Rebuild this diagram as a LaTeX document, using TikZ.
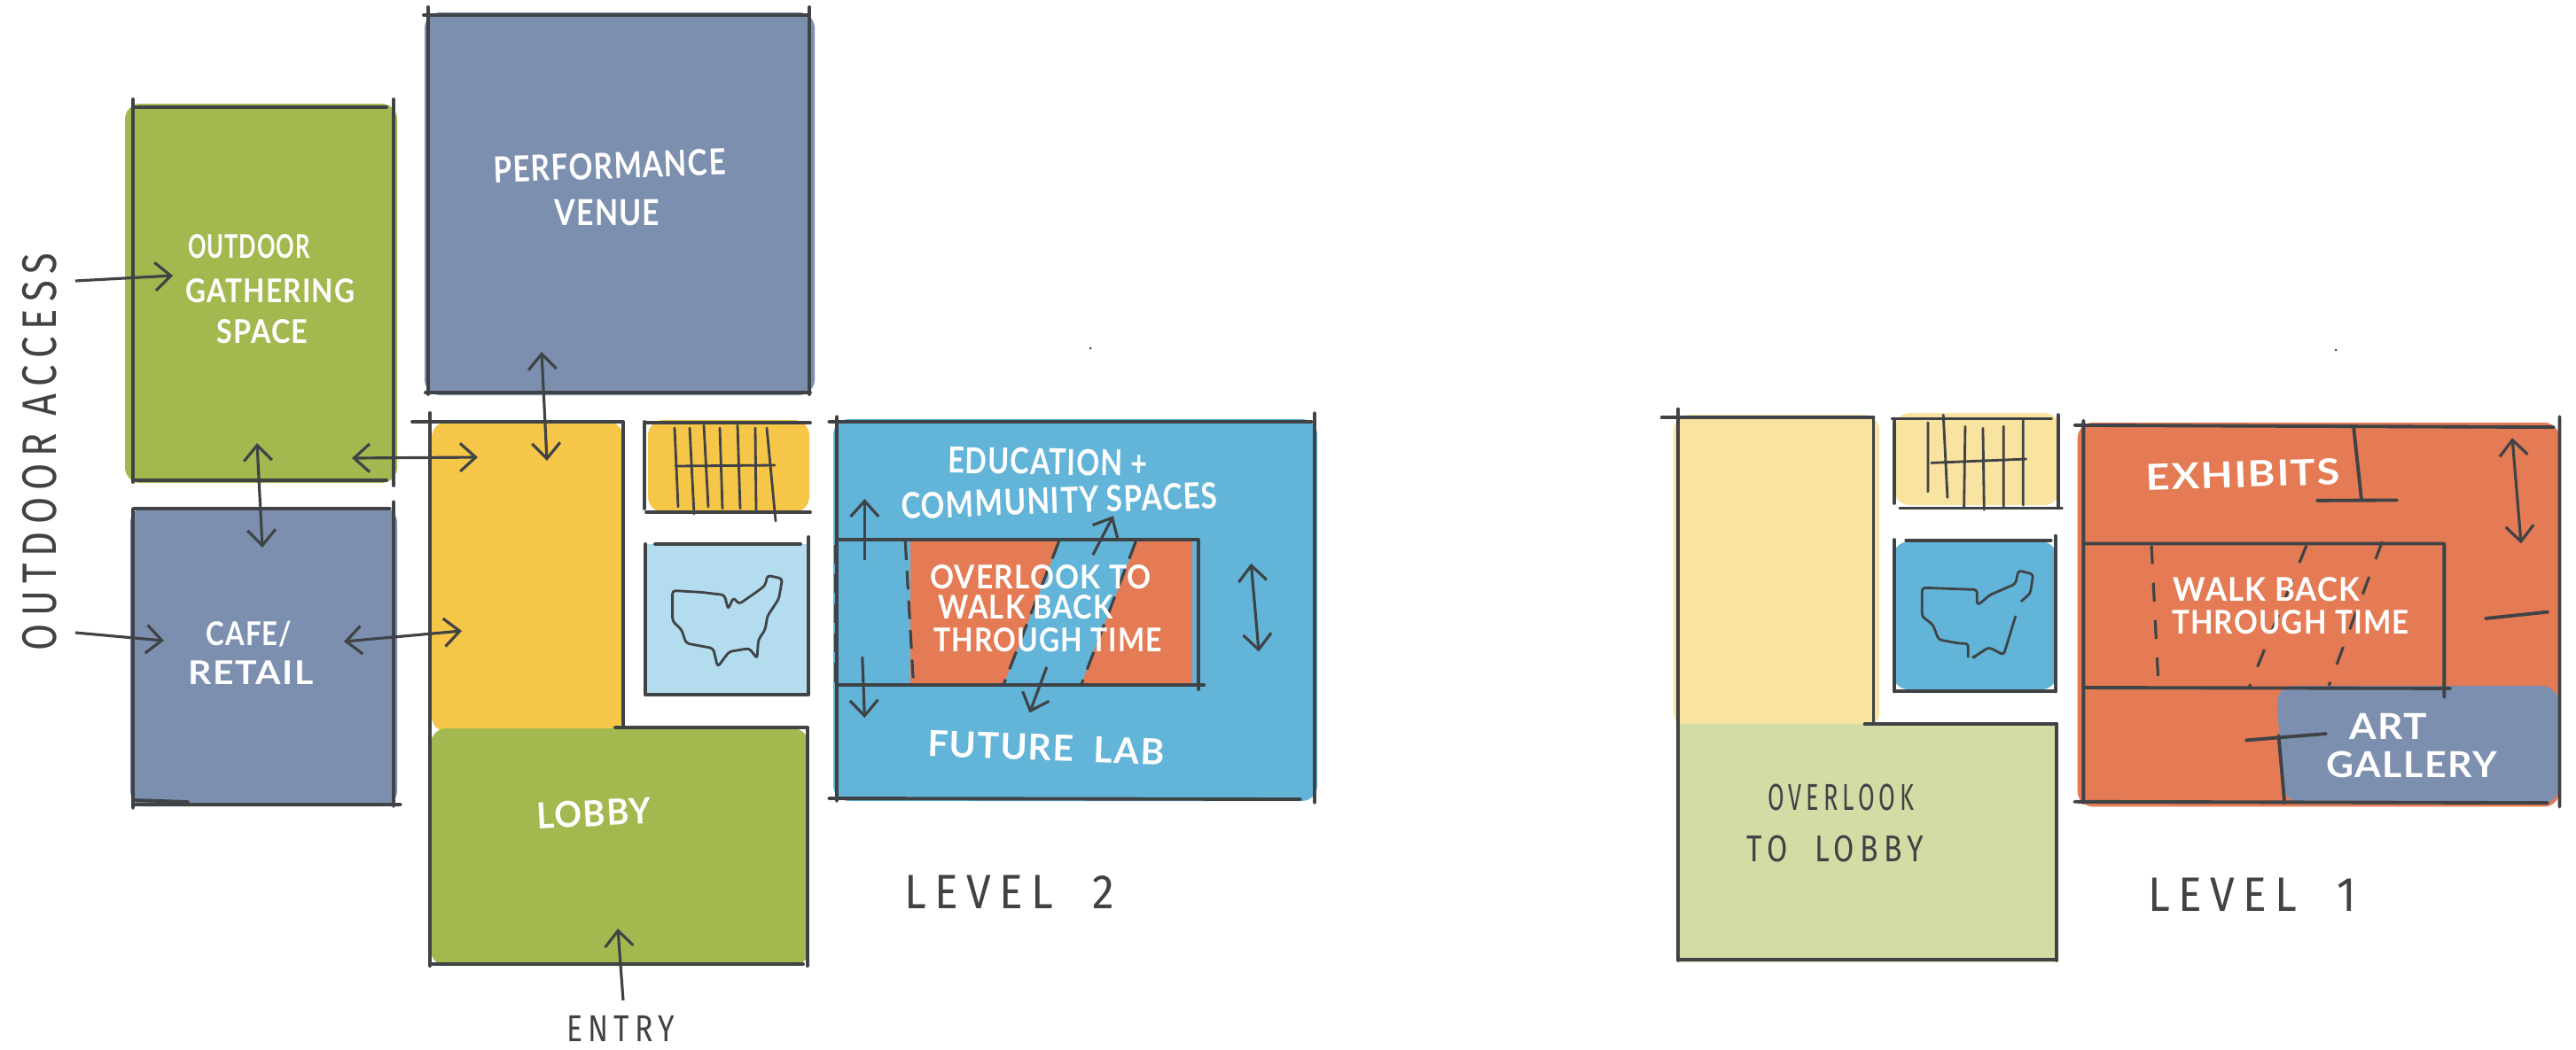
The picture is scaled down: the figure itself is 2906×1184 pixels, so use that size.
\documentclass[tikz,border=0pt]{standalone}
\usepackage{graphicx}
\usepackage{fontspec}
\setmainfont{Lato}
\newfontfamily\hw[FakeStretch=0.84,LetterSpace=3]{Lato}
\newfontfamily\hd[FakeStretch=0.80,LetterSpace=15]{Fira Sans}
\newcommand\sx[2]{\scalebox{#1}[1]{#2}}
\usetikzlibrary{arrows.meta}
\definecolor{slate}{HTML}{7D8FAF}
\definecolor{leaf}{HTML}{A3B84F}
\definecolor{sun}{HTML}{F5C647}
\definecolor{sky}{HTML}{B3DCEE}
\definecolor{sea}{HTML}{62B5D8}
\definecolor{clay}{HTML}{E47B54}
\definecolor{palesun}{HTML}{F8E3A0}
\definecolor{paleleaf}{HTML}{D3DCA4}
\definecolor{ink}{HTML}{404346}
\tikzset{
  paint/.style={rounded corners=5pt},
  wall/.style={draw=ink,line width=1.1pt,line cap=round},
  thin wall/.style={draw=ink,line width=0.8pt,line cap=round},
  dash wall/.style={draw=ink,line width=0.9pt,dash pattern=on 6pt off 3.5pt},
  oneway/.style={draw=ink,line width=0.9pt,-{Straight Barb[length=5pt,width=9pt]}},
  twoway/.style={draw=ink,line width=0.9pt,{Straight Barb[length=5pt,width=9pt]}-{Straight Barb[length=5pt,width=9pt]}},
  wlab/.style={text=white,inner sep=0pt,align=center,font=\hw\bfseries\fontsize{11.5}{14}\selectfont},
  wsmall/.style={text=white,inner sep=0pt,align=center,font=\hw\bfseries\fontsize{10.5}{13}\selectfont},
  dlab/.style={text=ink,inner sep=0pt,font=\hd\fontsize{12}{14}\selectfont},
  dbig/.style={text=ink,inner sep=0pt,font=\hd\fontsize{15.5}{18}\selectfont},
}
\begin{document}
\begin{tikzpicture}[x=0.01cm,y=-0.01cm]
\useasboundingbox[fill=white] (0,0) rectangle (2906,1184);

% ---------- LEVEL 2 ----------
\fill[slate,paint] (479,14) rectangle (919,446);
\fill[leaf,paint] (141,117) rectangle (448,545);
\fill[slate,paint] (147,572) rectangle (448,910);
\fill[sun,paint] (487,476) rectangle (703,826);
\fill[leaf,paint] (486,822) rectangle (912,1090);
\fill[sun,paint] (731,474) rectangle (913,578);
\fill[sky] (730,614) rectangle (911,784);
\fill[sea,paint] (940,473) rectangle (1486,904);
\fill[clay] (1027,611) -- (1345,611) -- (1345,771) -- (1027,771) -- cycle;
\fill[sea] (1195,611) -- (1282,611) -- (1220,771) -- (1133,771) -- cycle;

\draw[wall] (483,8) -- (483,445) (478,17) -- (913,17) (913,8) -- (913,445) (480,443) -- (914,443);
\draw[wall] (150,112) -- (150,544) (150,121) -- (436,121) (444,112) -- (444,548) (150,542) -- (436,542);
\draw[wall] (150,574) -- (150,912) (150,574) -- (440,574) (444,566) -- (444,910) (150,908) -- (452,908) (150,903) -- (212,905);
\draw[wall] (485,466) -- (485,1090) (465,476) -- (703,476) (703,476) -- (703,820) (694,821) -- (911,821) (911,821) -- (911,1090) (485,1088) -- (906,1088);
\draw[wall] (727,476) -- (727,574) (727,477) -- (914,477) (729,578) -- (914,578);
\draw[thin wall] (761,483) -- (765,572) (778,483) -- (783,580) (794,480) -- (799,572) (812,483) -- (815,574) (832,480) -- (835,574) (852,483) -- (853,576) (865,483) -- (875,588) (762,526) -- (874,525);
\draw[wall] (739,614) -- (903,614) (912,606) -- (912,784) (728,614) -- (728,784) (728,784) -- (912,784);
\draw[wall] (944,470) -- (944,904) (935,476) -- (1480,476) (1483,466) -- (1483,906) (935,901) -- (1467,902);
\draw[wall] (944,609) -- (1352,609) (1352,609) -- (1352,778) (944,773) -- (1358,773);

\begin{scope}[shift={(700,450)},x=0.005102cm,y=-0.003827cm]
\draw[thin wall,line join=round,rounded corners=1pt] (115,565) -- (180,570) -- (230,578) -- (238,620) -- (250,585) -- (262,605) -- (300,570) -- (320,550) -- (325,520) -- (358,530) -- (350,590) -- (325,640) -- (320,680) -- (305,710) -- (302,765) -- (285,735) -- (240,745) -- (215,790) -- (205,735) -- (145,720) -- (135,680) -- (115,655) -- cycle;
\draw[dash wall] (630,420) -- (648,840);
\draw[dash wall] (970,420) -- (848,840);
\draw[dash wall] (1140,420) -- (1020,840);
\draw[dash wall] (475,430) -- (475,840);
\draw[oneway] (540,475) -- (540,295);
\draw[oneway] (535,760) -- (540,940);
\draw[oneway] (1045,460) -- (1090,345);
\draw[oneway] (943,790) -- (905,925);
\draw[twoway] (1395,485) -- (1412,745);
\end{scope}

\draw[oneway] (85,317) -- (195,311);
\draw[oneway] (85,714) -- (185,723);
\draw[twoway] (290,500) -- (296,618);
\draw[twoway] (397,517) -- (539,516);
\draw[twoway] (388,724) -- (521,712);
\draw[twoway] (611,397) -- (617,520);
\draw[oneway] (703,1129) -- (697,1048);
\fill[ink] (1230,393) circle (1.5);

\node[wlab,rotate=2] (perf1) at (688,187) {\sx{0.98}{PERFORMANCE}};
\node[wlab] (perf2) at (685,240) {VENUE};
\node[wsmall] (out1) at (281,278) {\sx{0.82}{OUTDOOR}};
\node[wsmall] (out2) at (305,328) {\sx{1.02}{GATHERING}};
\node[wsmall] (out3) at (296,374) {\sx{1.04}{SPACE}};
\node[wsmall] (cafe1) at (281,716) {CAFE/};
\node[wsmall] (cafe2) at (283,759) {\sx{1.32}{RETAIL}};
\node[wlab,rotate=3] (lobby) at (670,918) {\sx{1.12}{LOBBY}};
\node[wlab,rotate=-1] (edu1) at (1182,521) {\sx{0.95}{EDUCATION +}};
\node[wlab,rotate=2] (edu2) at (1195,565) {\sx{0.98}{COMMUNITY SPACES}};
\node[wsmall] (walk1) at (1174,651) {\sx{1.08}{OVERLOOK TO}};
\node[wsmall] (walk2) at (1157,685) {\sx{1.05}{WALK BACK}};
\node[wsmall] (walk3) at (1182,722) {\sx{1.03}{THROUGH TIME}};
\node[wlab,rotate=-2] (future) at (1180,844) {\sx{1.2}{FUTURE\ \ LAB}};
\node[dlab] (entry) at (700,1161) {ENTRY};
\node[dbig,rotate=90] (access) at (45,510) {OUTDOOR ACCESS};
\node[dbig] (lev2) at (1139,1007) {\sx{1.14}{LEVEL\ \ 2}};

% ---------- LEVEL 1 ----------
\begin{scope}[shift={(1860,440)},x=0.006671cm,y=-0.004337cm]
\fill[palesun,paint] (42,65) rectangle (390,880);
\fill[paleleaf] (50,870) rectangle (692,1490);
\fill[palesun,paint] (415,60) rectangle (695,300);
\fill[sea,paint] (413,395) rectangle (690,780);
\fill[clay,paint] (725,85) rectangle (1540,1085);
\fill[slate,rounded corners=6pt] (1060,770) -- (1540,770) -- (1540,1078) -- (1075,1078) -- cycle;

\draw[wall] (50,50) -- (50,1485) (22,72) -- (380,72) (380,72) -- (380,868) (365,870) -- (690,870) (690,870) -- (690,1485) (50,1482) -- (690,1482);
\draw[wall] (412,75) -- (680,75) (415,75) -- (415,295) (692,65) -- (692,305) (425,308) -- (698,308);
\draw[thin wall] (472,85) -- (472,265) (498,65) -- (505,280) (535,95) -- (533,305) (565,100) -- (567,312) (600,95) -- (600,305) (633,80) -- (633,300) (478,190) -- (638,180);
\draw[wall] (435,392) -- (680,392) (415,390) -- (415,785) (688,380) -- (688,785) (415,785) -- (688,785);
\draw[thin wall,line join=round,rounded corners=1pt] (630,550) -- (645,530) -- (650,480) -- (625,470) -- (620,505) -- (575,535) -- (565,550) -- (555,560) -- (555,520) -- (462,515) -- (462,590) -- (480,610) -- (490,650) -- (525,660) -- (540,660) -- (540,695);
\draw[thin wall,line join=round,rounded corners=1pt] (550,695) -- (575,670) -- (600,690) -- (610,640) -- (620,590);
\fill[ink] (550,695) circle (4);

\draw[wall] (720,92) -- (1530,97) (735,80) -- (735,1075) (1540,70) -- (1540,1085) (720,1072) -- (1520,1075);
\draw[wall] (735,400) -- (1345,400) (1345,400) -- (1345,800) (735,775) -- (1355,777);
\draw[dash wall,dash pattern=on 6pt off 6pt] (850,405) -- (862,775);
\draw[dash wall,dash pattern=on 6pt off 6pt] (735,460) -- (735,770);
\draw[dash wall,dash pattern=on 6pt off 6pt] (1112,405) -- (1015,775);
\draw[dash wall,dash pattern=on 6pt off 6pt] (1240,395) -- (1150,770);
\draw[wall] (1065,900) -- (1075,1075) (1010,912) -- (1145,895) (1192,100) -- (1205,285) (1130,288) -- (1265,287) (1415,595) -- (1520,578);
\draw[twoway] (1460,125) -- (1475,400);

\node[wlab,rotate=2] (exh) at (1005,220) {\sx{1.38}{EXHIBITS}};
\node[wsmall] (lw1) at (1045,520) {\sx{1.12}{WALK BACK}};
\node[wsmall] (lw2) at (1085,605) {\sx{1.07}{THROUGH TIME}};
\node[wlab] (art1) at (1250,875) {\sx{1.3}{ART}};
\node[wlab] (art2) at (1290,975) {\sx{1.26}{GALLERY}};
\node[dlab] (ov1) at (325,1060) {\sx{0.8}{OVERLOOK}};
\node[dlab] (ov2) at (315,1195) {\sx{1.0}{TO\ \ LOBBY}};
\node[dbig] (lev1) at (1020,1315) {\sx{1.14}{LEVEL\ \ 1}};
\end{scope}
\fill[ink] (2635,395) circle (1.5);
\end{tikzpicture}
\end{document}
